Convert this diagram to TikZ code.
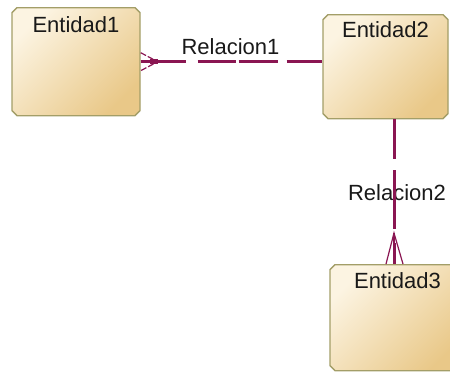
\documentclass[tikz,border=0pt]{standalone}
\usepackage{fontspec}
\setmainfont{Liberation Sans}
\usetikzlibrary{shapes}
\definecolor{entLight}{HTML}{FCF4E2}
\definecolor{entDark}{HTML}{E9C888}
\definecolor{entBorder}{HTML}{A39E68}
\definecolor{relColor}{HTML}{8A1652}

\begin{document}
\begin{tikzpicture}[x = 1pt, y = -1pt, font = \fontsize{22}{25}\selectfont]
	\tikzstyle{EntityStyle}=[chamfered rectangle, chamfered rectangle xsep = 2.5pt, chamfered rectangle ysep = 2.5pt, draw = entBorder, line width = 1.4pt, top color = entLight, bottom color = entDark, shading angle = 45, inner sep = 0pt, text = black!90, anchor = north]
	\tikzstyle{RelStyle}=[draw = relColor, line width = 3pt]
	\tikzstyle{FootStyle}=[draw = relColor, line width = 1.2pt]
	\tikzstyle{RelLabelStyle}=[text = black!90, inner sep = 0pt, anchor = base]
	\clip (0,0) rectangle (450,372);
	\node[EntityStyle, minimum width = 128pt, text height = 22.5pt, text depth = 80.5pt] (e1) at (76,7) {Entidad1};
	\node[EntityStyle, minimum width = 125pt, text height = 20.5pt, text depth = 78.5pt] (e2) at (385.5,14) {Entidad2};
	\node[EntityStyle, minimum width = 135pt, text height = 21.5pt, text depth = 79.5pt] (e3) at (397.5,264) {Entidad3};
	\node[RelLabelStyle] (l1) at (230.5,54) {Relacion1};
	\node[RelLabelStyle] (l2) at (397,200) {Relacion2};
	% Relacion1
	\coordinate (r1a) at (e1.east);
	\coordinate (r1b) at (e1.east -| e2.west);
	\coordinate (f1) at ([xshift = 17pt]e1.east);
	\draw[RelStyle, dash pattern = on 45pt off 12pt on 38pt off 3pt on 39pt off 9pt on 45pt] (r1a) -- (r1b);
	\draw[FootStyle, dash pattern = on 6pt off 2pt] ([yshift = 9pt]e1.east) -- (f1) -- ([yshift = -9pt]e1.east);
	\draw[relColor, line width = 5pt] ([xshift = 9pt]e1.east) -- (f1);
	% Relacion2
	\coordinate (r2a) at ([xshift = 8.5pt]e2.south);
	\coordinate (r2b) at (r2a |- e3.north);
	\coordinate (f2) at ([yshift = 31pt]r2b);
	\draw[RelStyle, dash pattern = on 40pt off 11pt on 59pt off 200pt] (r2a) -- (f2);
	\draw[FootStyle] ([xshift = -8pt]r2b) -- (f2) -- ([xshift = 9pt]r2b);
	\draw[FootStyle] (f2) -- (r2b);
	\draw[RelStyle] ([yshift = 21pt]r2b) -- (r2b);
\end{tikzpicture}
\end{document}
